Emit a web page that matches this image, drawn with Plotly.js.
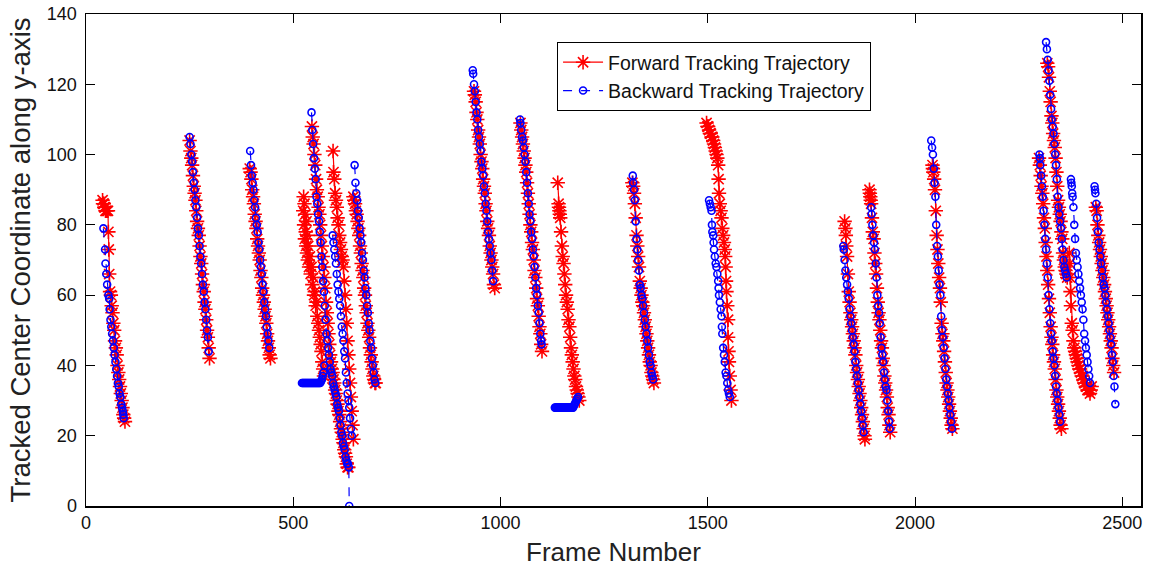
<!DOCTYPE html>
<html>
<head>
<meta charset="utf-8">
<script src="https://cdn.plot.ly/plotly-3.0.1.min.js"></script>
<style>html,body{margin:0;padding:0;background:#fff;}#chart{width:1152px;height:572px;}</style>
</head>
<body>
<div id="chart"></div>
<script>
// ---- Data ----
const xTickVals = [0, 500, 1000, 1500, 2000, 2500];
const yTickVals = [0, 20, 40, 60, 80, 100, 120, 140];

// Forward tracking trajectory: one list of frames / y per track segment
const fwdFrames = [
  [40,41,43,44,46,47,49,51,53,54,55,56,58,60,62,64,66,68,70,72,74,76,78,80,82,84,86,88,90,92,94],
  [250,252,254,256,258,260,262,264,266,268,270,272,274,276,278,280,282,284,286,288,290,292,294,296,298],
  [395,397,399,401,403,405,407,409,411,413,415,417,419,421,423,425,427,429,431,433,435,437,439,441,443,445],
  [524,525,526,527,528,529,530,531,532,533,534,535,536,538,540,542,544,546,548,550,552,554,556,558,560,562,564,566,568,570,572,574],
  [545,547,549,551,553,555,557,559,561,563,565,567,569,571,573,575,577,579,581,583,585,587,589,591,593,595,597,599,601,603,605,607,609,611,613,615,617,619,621,623,625,627,629,631,633],
  [596,597,599,601,603,605,607,609,611,613,615,617,619,621,623,625,627,629,631,633,635,637,639,641,643,645],
  [645,647,649,651,653,655,657,659,661,663,665,667,669,671,673,675,677,679,681,683,685,687,689,691,693,695,697,699],
  [936,938,940,942,944,946,948,950,952,954,956,958,960,962,964,966,968,970,972,974,976,978,980,982,984,986],
  [1048,1050,1052,1054,1056,1058,1060,1062,1064,1066,1068,1070,1072,1074,1076,1078,1080,1082,1084,1086,1088,1090,1092,1094,1096,1098,1100],
  [1138,1140,1141,1142,1143,1144,1146,1148,1150,1152,1154,1156,1158,1160,1162,1164,1166,1168,1170,1172,1174,1176,1178,1180,1182,1184,1186,1188,1190],
  [1318,1320,1322,1324,1326,1328,1330,1332,1334,1336,1338,1340,1342,1344,1346,1348,1350,1352,1354,1356,1358,1360,1362,1364,1366,1368,1370],
  [1497,1499,1501,1503,1505,1507,1509,1511,1513,1515,1517,1519,1521,1523,1525,1526,1527,1529,1531,1533,1535,1537,1539,1541,1542,1543,1544,1545,1547,1549,1549,1550,1551,1553,1555,1557],
  [1830,1832,1833,1834,1836,1838,1840,1842,1844,1846,1848,1850,1852,1854,1856,1858,1860,1862,1864,1866,1868,1870,1872,1874,1876,1878,1879],
  [1890,1891,1892,1893,1894,1896,1898,1900,1902,1904,1906,1908,1910,1912,1914,1916,1918,1920,1922,1924,1926,1928,1930,1932,1934,1936,1938,1940],
  [2042,2043,2044,2046,2048,2050,2052,2054,2056,2058,2060,2062,2064,2066,2068,2070,2072,2074,2076,2078,2080,2082,2084,2086,2088,2090],
  [2299,2301,2303,2305,2307,2309,2311,2313,2315,2317,2319,2321,2323,2325,2327,2329,2331,2333,2335,2337,2339,2341,2343,2345,2347,2349,2351,2353],
  [2319,2321,2323,2325,2327,2329,2331,2333,2335,2337,2339,2341,2343,2345,2347,2349,2351,2353,2355,2357,2359,2361,2363,2365,2367],
  [2372,2373,2374,2375,2376,2378,2380,2382,2384,2386,2388,2390,2392,2394,2396,2398,2400,2402,2404,2406,2408,2410,2412,2414,2416,2418,2420,2422,2424,2426],
  [2436,2438,2440,2442,2444,2446,2448,2450,2452,2454,2456,2458,2460,2462,2464,2466,2468,2470,2472,2474,2476,2478,2480]
];
const fwdY = [
  [87,86,86,85,85,84,84,84,84,78,73,66,61,60,57,55,52,50,47,45,43,40,38,36,34,32,30,28,26,25,24],
  [104,101,99,97,94,91,89,87,84,81,79,77,74,71,69,66,63,61,58,56,53,50,48,45,42],
  [96,95,93,90,88,86,83,81,79,76,74,72,70,67,65,62,60,58,56,54,52,49,47,45,43,42],
  [84,88,80,86,76,83,78,74,81,72,77,70,74,68,71,66,68,63,65,60,61,57,58,54,52,50,48,46,44,41,39,37],
  [108,105,103,100,97,93,90,88,85,83,80,77,74,71,68,65,62,58,55,52,49,46,43,41,39,38,36,35,33,32,30,29,27,26,24,22,21,19,18,16,15,14,12,11,11],
  [101,95,93,89,87,85,82,80,77,75,73,71,70,68,64,60,56,52,47,43,39,35,31,27,23,19],
  [88,87,86,84,83,81,79,77,74,72,69,67,65,62,60,57,55,52,50,48,45,43,41,39,37,36,35,35],
  [118,117,115,112,110,107,105,103,100,98,96,93,91,89,86,84,81,79,77,74,72,70,68,66,63,62],
  [109,107,105,103,101,99,97,95,92,89,86,83,80,78,75,73,70,67,65,62,59,57,54,51,49,46,44],
  [92,86,85,84,83,82,78,74,71,69,66,63,60,58,56,53,51,48,45,43,41,39,37,36,34,33,32,31,30],
  [92,91,89,86,82,77,74,71,68,64,62,60,58,57,55,53,51,49,47,45,43,41,40,38,37,36,35],
  [109,108,108,107,106,106,105,105,104,103,102,101,100,99,97,93,89,86,84,82,79,77,75,73,71,68,64,61,57,53,48,44,41,37,33,30],
  [81,79,77,74,71,66,61,58,55,53,51,49,47,45,43,40,38,36,34,32,30,28,26,24,22,20,19],
  [90,89,88,87,86,82,78,76,72,69,66,62,58,55,53,50,47,45,42,40,37,35,33,31,28,26,23,21],
  [97,96,95,93,90,84,77,73,69,65,62,58,52,49,47,44,41,38,35,33,31,29,27,25,23,22],
  [99,97,94,91,89,86,82,79,75,71,67,63,59,55,51,48,46,43,41,39,36,33,31,29,27,25,23,22],
  [126,125,122,118,115,111,109,106,104,102,99,95,91,87,85,83,81,78,76,72,70,68,67,66,65],
  [72,69,65,61,57,52,50,47,45,44,43,42,41,40,39,39,38,37,37,36,35,35,34,34,33,33,33,32,33,34],
  [85,84,80,77,75,73,71,69,67,65,63,61,59,57,55,53,51,49,47,45,42,40,38]
];

// Backward tracking trajectory
const bwdFrames = [
  [42,46,47,49,51,54,56,57,59,61,63,65,67,69,71,73,75,77,79,81,83,85,87,89,90,91],
  [250,252,254,256,258,260,262,264,266,268,270,272,274,276,278,280,282,284,286,288,290,292,294,296],
  [396,398,400,402,404,406,408,410,412,414,416,418,420,422,424,426,428,430,432,434,436,438,440,442],
  [521,523,525,527,529,531,533,535,537,539,541,543,545,547,549,551,553,555,557,559,561,563,565,567,569,571,573,575],
  [544,546,548,550,552,554,556,558,560,562,564,566,568,570,572,574,576,578,580,582,584,586,588,590,592,594,596,598,600,602,604,606,608,610,612,614,616,618,620,622,624,626,628,630,632,634,635],
  [595,597,599,601,603,605,607,609,611,613,615,617,619,621,623,625,627,629,631,633,635,637,639,641],
  [648,650,652,654,656,658,660,662,664,666,668,670,672,674,676,678,680,682,684,686,688,690,692,694,696,698],
  [933,934,936,938,940,942,944,946,948,950,952,954,956,958,960,962,964,966,968,970,972,974,976,978,980,982],
  [1047,1048,1050,1052,1054,1056,1058,1060,1062,1064,1066,1068,1070,1072,1074,1076,1078,1080,1082,1084,1086,1088,1090,1092,1094,1096,1098,1099],
  [1131,1133,1135,1137,1139,1141,1143,1145,1147,1149,1151,1153,1155,1157,1159,1161,1163,1165,1167,1169,1171,1173,1175,1177,1179,1181,1183,1185,1187],
  [1319,1320,1322,1324,1326,1328,1330,1332,1334,1336,1338,1340,1342,1344,1346,1348,1350,1352,1354,1356,1358,1360,1362,1364,1366,1368],
  [1503,1505,1507,1509,1510,1511,1513,1514,1515,1517,1519,1521,1523,1525,1526,1527,1529,1531,1533,1534,1535,1537,1539,1541,1543,1545,1547,1549,1551,1553],
  [1827,1828,1830,1832,1834,1836,1838,1840,1842,1844,1846,1848,1850,1852,1854,1856,1858,1860,1862,1864,1866,1868,1870,1872,1874,1876],
  [1894,1895,1897,1899,1901,1903,1905,1907,1909,1911,1913,1915,1917,1919,1921,1923,1925,1927,1929,1931,1933,1935,1937,1939],
  [2039,2041,2043,2045,2047,2049,2051,2053,2055,2057,2059,2061,2063,2065,2067,2069,2071,2073,2075,2077,2079,2081,2083,2085,2087,2089],
  [2300,2301,2302,2304,2306,2308,2310,2312,2314,2316,2318,2320,2322,2324,2326,2328,2330,2332,2334,2336,2338,2340,2342,2344,2346,2348,2350],
  [2316,2318,2320,2322,2324,2326,2328,2330,2332,2334,2336,2338,2340,2342,2344,2346,2348,2350,2352,2354,2356,2358,2360,2362,2364,2366],
  [2376,2377,2378,2379,2380,2382,2384,2386,2388,2390,2392,2394,2396,2398,2400,2402,2404,2406,2408,2410,2412,2414,2416,2418,2420,2422],
  [2433,2434,2435,2437,2439,2441,2443,2445,2447,2449,2451,2453,2455,2457,2459,2461,2463,2465,2467,2469,2471,2473,2475,2477,2479,2481,2483]
];
const bwdY = [
  [79,73,69,66,63,60,59,56,53,51,49,47,45,43,41,39,37,35,34,32,31,29,28,27,26,25],
  [105,103,100,98,95,92,90,87,85,82,79,77,74,71,69,66,63,61,58,56,53,50,48,44],
  [101,97,94,92,90,87,85,82,80,78,75,73,70,68,66,63,61,58,56,54,51,49,47,45],
  [35,35,35,35,35,35,35,35,35,35,35,35,35,35,35,35,35,35,35,35,35,35,35,35.5,36,37,38,40],
  [112,107,103,99,96,93,88,86,83,81,78,75,71,68,64,61,57,53,49,47,45,43,41,39,38,37,35,34,33,32,31,29,28,27,25,23,21,20,18,17,16,14,13,12,12,11,0],
  [77,75,73,71,69,66,63,61,59,57,54,51,49,47,44,42,38,35,32,30,28,25,22,20],
  [97,92,89,87,84,82,79,77,75,72,70,67,65,62,60,57,55,52,50,47,45,42,40,38,36,35],
  [124,123,120,118,115,112,110,107,105,103,101,98,96,94,91,89,86,84,81,78,76,74,72,70,67,64],
  [110,109,107,105,104,102,100,98,95,92,89,86,83,81,78,76,73,71,68,65,62,60,57,55,52,49,47,46],
  [28,28,28,28,28,28,28,28,28,28,28,28,28,28,28,28,28,28,28,28,28,28,28,28.5,29,29.5,30,30.5,31],
  [94,92,90,87,81,76,73,70,67,63,62,60,59,57,55,53,51,49,47,45,43,41,40,38,37,36],
  [87,86,85,84,80,78,77,75,73,71,69,68,66,64,62,60,58,56,54,51,49,45,43,41,38,37,35,33,32,31],
  [74,73,70,67,65,63,61,59,56,54,52,50,48,46,44,41,39,37,35,33,31,29,27,25,23,21],
  [85,83,80,77,75,73,69,65,60,57,55,52,48,45,43,41,38,36,34,33,30,27,24,22],
  [104,102,100,96,92,88,80,74,71,67,63,60,54,50,48,45,42,39,36,34,32,30,28,26,24,22],
  [100,99,97,94,91,88,84,80,76,73,69,65,60,56,52,49,47,44,42,40,37,34,32,30,28,26,24],
  [132,130,127,124,121,117,113,110,108,106,103,100,97,93,88,85,83,81,79,76,73,70,68,67,66,65],
  [93,92,91,89,88,85,80,76,72,70,68,66,64,62,60,58,56,53,49,47,45,43,41,39,37,35],
  [91,90,89,86,82,78,75,73,71,69,67,65,63,62,60,58,56,54,52,50,48,46,43,41,37,34,29]
];

// join segments with gaps so each track is drawn as its own line
function joinSegments(segs) {
  const out = [];
  segs.forEach((s, i) => { if (i > 0) out.push(null); s.forEach(v => out.push(v)); });
  return out;
}

const FONT = 'Liberation Sans, Arial, sans-serif';

const traces = [
  {
    name: 'Forward Tracking Trajectory',
    x: joinSegments(fwdFrames),
    y: joinSegments(fwdY),
    type: 'scatter',
    mode: 'lines+markers',
    connectgaps: false,
    line: {color: '#ff0000', width: 1.2},
    marker: {symbol: 'asterisk-open', size: 12, color: '#ff0000', line: {color: '#ff0000', width: 1.6}}
  },
  {
    name: 'Backward Tracking Trajectory',
    x: joinSegments(bwdFrames),
    y: joinSegments(bwdY),
    type: 'scatter',
    mode: 'lines+markers',
    connectgaps: false,
    line: {color: '#0000ff', width: 1.2, dash: 'dash'},
    marker: {symbol: 'circle-open', size: 7, color: '#0000ff', line: {color: '#0000ff', width: 1.6}}
  }
];

const axisCommon = {
  ticks: 'inside',
  ticklen: 9,
  tickwidth: 1,
  tickcolor: '#000',
  showline: true,
  linecolor: '#000',
  linewidth: 1.5,
  mirror: 'ticks',
  showgrid: false,
  zeroline: false,
  tickfont: {family: FONT, size: 18, color: '#111'}
};

const layout = {
  width: 1152,
  height: 572,
  margin: {l: 86, r: 11, t: 14, b: 66},
  paper_bgcolor: '#fff',
  plot_bgcolor: '#fff',
  showlegend: true,
  xaxis: Object.assign({}, axisCommon, {
    range: [0, 2545],
    tickvals: xTickVals,
    ticktext: xTickVals.map(String),
    title: {text: 'Frame Number', font: {family: FONT, size: 26, color: '#222'}, standoff: 10}
  }),
  yaxis: Object.assign({}, axisCommon, {
    range: [0, 140],
    tickvals: yTickVals,
    ticktext: yTickVals.map(String),
    ticklabelstandoff: 4,
    title: {text: 'Tracked Center Coordinate along y-axis', font: {family: FONT, size: 27.5, color: '#222'}, standoff: 8}
  }),
  legend: {
    x: 0.4465, y: 0.943, xanchor: 'left', yanchor: 'top',
    bgcolor: '#fff', bordercolor: '#000', borderwidth: 1,
    font: {family: FONT, size: 19.5, color: '#111'},
    tracegroupgap: 0,
    itemwidth: 40
  }
};

Plotly.newPlot('chart', traces, layout, {displayModeBar: false, staticPlot: true});
</script>
</body>
</html>
